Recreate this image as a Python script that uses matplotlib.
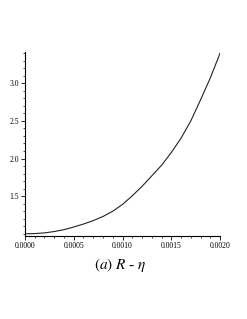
import matplotlib.pyplot as plt
from matplotlib.ticker import MultipleLocator, FixedLocator, FormatStrFormatter

# eta values and R values
eta = [0.0, 0.0001, 0.0002, 0.0003, 0.0004, 0.0005, 0.0006, 0.0007, 0.0008, 0.0009, 0.0010,
       0.0011, 0.0012, 0.0013, 0.0014, 0.0015, 0.0016, 0.0017, 0.0018, 0.0019, 0.0020]
R = [1.000, 1.003, 1.012, 1.030, 1.055, 1.090, 1.130, 1.175, 1.230, 1.300, 1.390,
     1.505, 1.630, 1.770, 1.910, 2.080, 2.270, 2.500, 2.780, 3.070, 3.400]
y_ticks = [1.5, 2.0, 2.5, 3.0]
caption = r'$(a)$ $R$ - $\eta$'

plt.rcParams['font.family'] = ['Liberation Serif', 'DejaVu Serif']
plt.rcParams['mathtext.fontset'] = 'stix'

fig = plt.figure(figsize=(2.47, 3.19), dpi=100)
ax = fig.add_axes([0.101, 0.260, 0.790, 0.577])

ax.plot(eta, R, color='#222222', lw=0.8)

ax.set_xlim(0, 0.002)
ax.set_ylim(0.97, 3.415)

ax.xaxis.set_major_locator(MultipleLocator(0.0005))
ax.xaxis.set_minor_locator(MultipleLocator(0.0001))
ax.xaxis.set_major_formatter(FormatStrFormatter('%.4f'))
ax.yaxis.set_major_locator(FixedLocator(y_ticks))
ax.yaxis.set_minor_locator(MultipleLocator(0.1))
ax.yaxis.set_major_formatter(FormatStrFormatter('%.1f'))

for s in ['top', 'right']:
    ax.spines[s].set_visible(False)
for s in ['left', 'bottom']:
    ax.spines[s].set_linewidth(0.8)

ax.tick_params(which='major', length=3, width=0.6, labelsize=5.5, pad=1.5)
ax.tick_params(which='minor', length=1.5, width=0.5)

fig.text(0.486, 0.168, caption, ha='center', va='center', fontsize=11)

fig.savefig('out.png', dpi=100)
